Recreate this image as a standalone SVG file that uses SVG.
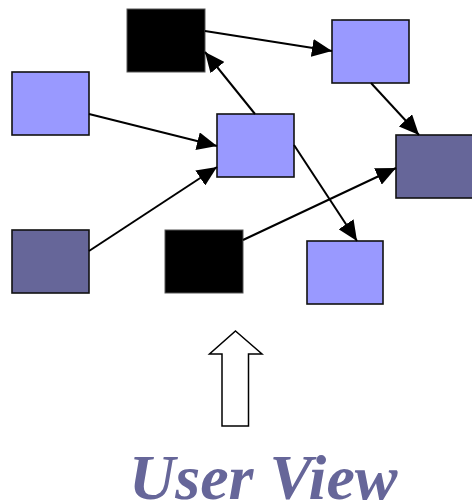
<svg xmlns="http://www.w3.org/2000/svg" width="472" height="501" viewBox="0 0 472 501">
  <style>
    .node { stroke: #111111; stroke-width: 1.6; }
    .light { fill: #9999FF; }
    .dark { fill: #666699; }
    .black { fill: #000000; stroke: #555555; stroke-width: 1; }
    .edge { stroke: #000000; stroke-width: 2; fill: none; marker-end: url(#head); }
    .label { font-family: "Liberation Serif", "Times New Roman", serif; font-weight: bold; font-style: italic; font-size: 64px; fill: #666699; }
  </style>
  <defs>
    <marker id="head" viewBox="0 0 20 18" refX="20" refY="9" markerWidth="20" markerHeight="18" markerUnits="userSpaceOnUse" orient="auto">
      <path d="M0,0 L20,9 L0,18 Z" fill="#000000"/>
    </marker>
  </defs>

  <g id="n-black-top"><rect class="black" x="127" y="9" width="78" height="63"/></g>
  <g id="n-blue-topright"><rect class="node light" x="332" y="20" width="77" height="63"/></g>
  <g id="n-blue-left"><rect class="node light" x="12" y="72" width="77" height="63"/></g>
  <g id="n-blue-center"><rect class="node light" x="217" y="114" width="77" height="63"/></g>
  <g id="n-dark-right"><rect class="node dark" x="396" y="135" width="78" height="63"/></g>
  <g id="n-dark-left"><rect class="node dark" x="12" y="230" width="77" height="63"/></g>
  <g id="n-black-center"><rect class="black" x="165" y="230" width="78" height="63"/></g>
  <g id="n-blue-bottomright"><rect class="node light" x="307" y="241" width="76" height="63"/></g>

  <g id="connectors">
    <line class="edge" x1="205" y1="31" x2="332" y2="51"/>
    <line class="edge" x1="255" y1="114" x2="205" y2="52"/>
    <line class="edge" x1="371" y1="83" x2="419" y2="135"/>
    <line class="edge" x1="89" y1="114" x2="217" y2="146"/>
    <line class="edge" x1="89" y1="251" x2="217" y2="167"/>
    <line class="edge" x1="243" y1="240" x2="396" y2="168"/>
    <line class="edge" x1="294" y1="145" x2="357" y2="241"/>
  </g>

  <g id="user-arrow">
    <path d="M235.5,331 L262,354 L248.5,354 L248.5,426 L222,426 L222,354 L209.5,354 Z" fill="#FFFFFF" stroke="#000000" stroke-width="1.5" stroke-linejoin="miter"/>
  </g>

  <g id="caption">
    <text class="label" x="129" y="499">User View</text>
  </g>
</svg>
